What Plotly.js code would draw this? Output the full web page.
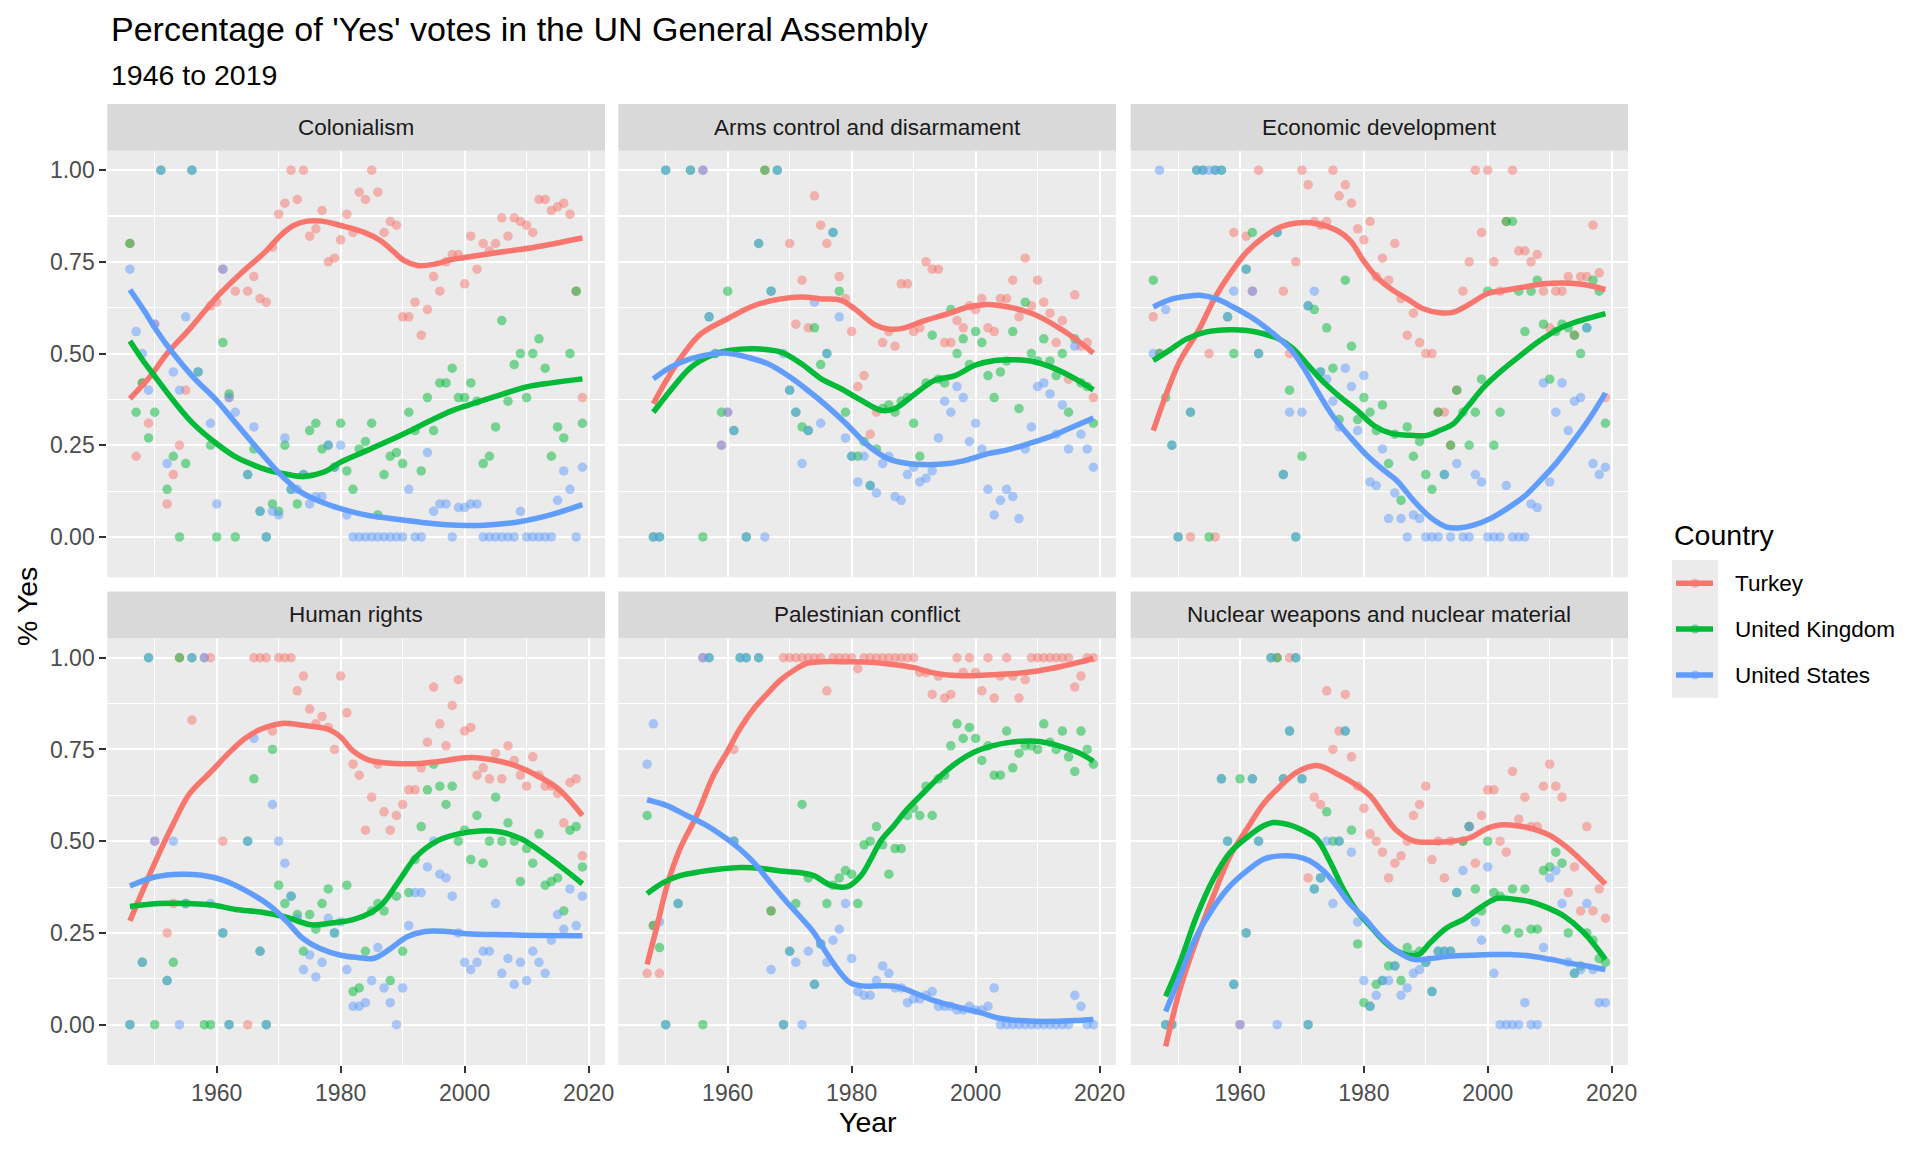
<!DOCTYPE html>
<html>
<head>
<meta charset="utf-8">
<script src="https://cdn.plot.ly/plotly-3.0.1.min.js"></script>
<style>
  html, body { margin: 0; padding: 0; background: #ffffff; }
  #chart { width: 1920px; height: 1152px; }
</style>
</head>
<body>
<div id="chart"></div>
<script>
// ---- data: [year, share of yes votes] ----

var countries = ['Turkey', 'United Kingdom', 'United States'];
var countryColors = ['#F8766D', '#00BA38', '#619CFF'];
var topics = ['Colonialism', 'Arms control and disarmament', 'Economic development',
              'Human rights', 'Palestinian conflict', 'Nuclear weapons and nuclear material'];

// Colonialism
var colonialismTurkey = [[1946,0.80],[1947,0.22],[1948,0.42],[1949,0.31],[1950,0.58],[1952,0.09],[1953,0.17],[1954,0.25],[1955,0.40],[1959,0.63],[1960,0.64],[1961,0.73],[1962,0.38],[1963,0.67],[1965,0.67],[1966,0.71],[1967,0.65],[1968,0.64],[1969,0.79],[1970,0.88],[1971,0.91],[1972,1.00],[1973,0.92],[1974,1.00],[1975,0.82],[1976,0.84],[1977,0.89],[1978,0.75],[1979,0.76],[1980,0.81],[1981,0.88],[1982,0.83],[1983,0.94],[1984,0.92],[1985,1.00],[1986,0.94],[1987,0.83],[1988,0.86],[1989,0.85],[1990,0.60],[1991,0.60],[1992,0.64],[1993,0.55],[1994,0.62],[1995,0.71],[1996,0.67],[1997,0.75],[1998,0.77],[1999,0.77],[2000,0.69],[2001,0.82],[2002,0.73],[2003,0.80],[2004,0.78],[2005,0.80],[2006,0.87],[2007,0.82],[2008,0.87],[2009,0.86],[2010,0.85],[2011,0.83],[2012,0.92],[2013,0.92],[2014,0.89],[2015,0.90],[2016,0.91],[2017,0.88],[2018,0.67],[2019,0.38]];
var colonialismUK = [[1946,0.80],[1947,0.34],[1948,0.42],[1949,0.27],[1950,0.34],[1951,1.00],[1952,0.13],[1953,0.22],[1954,0.00],[1955,0.20],[1956,1.00],[1957,0.45],[1959,0.25],[1960,0.00],[1961,0.53],[1962,0.39],[1963,0.00],[1965,0.17],[1966,0.24],[1967,0.07],[1968,0.00],[1969,0.09],[1970,0.07],[1971,0.25],[1972,0.13],[1973,0.09],[1974,0.17],[1975,0.29],[1976,0.31],[1977,0.24],[1978,0.25],[1979,0.19],[1980,0.31],[1981,0.18],[1982,0.13],[1983,0.24],[1984,0.26],[1985,0.31],[1986,0.06],[1987,0.17],[1988,0.22],[1989,0.23],[1990,0.20],[1991,0.34],[1992,0.29],[1993,0.18],[1994,0.38],[1995,0.29],[1996,0.42],[1997,0.42],[1998,0.46],[1999,0.38],[2000,0.38],[2001,0.42],[2002,0.37],[2003,0.20],[2004,0.22],[2005,0.30],[2006,0.59],[2007,0.37],[2008,0.47],[2009,0.50],[2010,0.38],[2011,0.50],[2012,0.54],[2013,0.46],[2014,0.22],[2015,0.30],[2016,0.27],[2017,0.50],[2018,0.67],[2019,0.31]];
var colonialismUS = [[1946,0.73],[1947,0.56],[1948,0.50],[1949,0.40],[1950,0.58],[1951,1.00],[1952,0.20],[1953,0.45],[1954,0.40],[1955,0.60],[1956,1.00],[1957,0.45],[1959,0.31],[1960,0.09],[1961,0.73],[1962,0.38],[1963,0.34],[1965,0.17],[1966,0.30],[1967,0.07],[1968,0.00],[1969,0.07],[1970,0.06],[1971,0.27],[1972,0.13],[1973,0.13],[1974,0.17],[1975,0.09],[1976,0.11],[1977,0.11],[1978,0.25],[1979,0.19],[1980,0.25],[1981,0.06],[1982,0],[1983,0],[1984,0],[1985,0],[1986,0],[1987,0],[1988,0],[1989,0],[1990,0],[1991,0.13],[1992,0],[1993,0],[1994,0.23],[1995,0.07],[1996,0.09],[1997,0.09],[1998,0],[1999,0.08],[2000,0.08],[2001,0.09],[2002,0.09],[2003,0],[2004,0],[2005,0],[2006,0],[2007,0],[2008,0],[2009,0.07],[2010,0],[2011,0],[2012,0],[2013,0],[2014,0],[2015,0.10],[2016,0.18],[2017,0.13],[2018,0],[2019,0.19]];

// Arms control and disarmament
var armsTurkey = [[1956,1.00],[1959,0.25],[1960,0.34],[1966,1.00],[1970,0.80],[1971,0.58],[1972,0.70],[1973,0.57],[1974,0.93],[1975,0.85],[1976,0.80],[1978,0.71],[1979,0.65],[1980,0.56],[1981,0.41],[1982,0.44],[1983,0.28],[1984,0.34],[1985,0.53],[1986,0.56],[1987,0.52],[1988,0.69],[1989,0.69],[1990,0.56],[1991,0.57],[1992,0.75],[1993,0.73],[1994,0.73],[1995,0.53],[1996,0.53],[1997,0.59],[1998,0.57],[1999,0.63],[2000,0.62],[2001,0.65],[2002,0.57],[2003,0.56],[2004,0.65],[2005,0.65],[2006,0.70],[2007,0.60],[2008,0.76],[2009,0.63],[2010,0.70],[2011,0.64],[2012,0.61],[2013,0.53],[2014,0.59],[2015,0.43],[2016,0.66],[2017,0.52],[2018,0.53],[2019,0.38]];
var armsUK = [[1948,0],[1949,0],[1950,1.00],[1954,1.00],[1956,0],[1957,0.60],[1958,0.50],[1959,0.34],[1960,0.67],[1961,0.29],[1963,0],[1965,0.80],[1966,1.00],[1967,0.67],[1968,1.00],[1970,0.40],[1971,0.34],[1972,0.30],[1973,0.29],[1974,0.57],[1975,0.47],[1976,0.50],[1977,0.83],[1978,0.67],[1979,0.34],[1980,0.22],[1981,0.22],[1982,0.26],[1983,0.14],[1984,0.24],[1985,0.35],[1986,0.36],[1987,0.34],[1988,0.37],[1989,0.38],[1990,0.31],[1991,0.22],[1992,0.42],[1993,0.55],[1994,0.43],[1995,0.42],[1996,0.62],[1997,0.50],[1998,0.54],[1999,0.47],[2000,0.56],[2001,0.53],[2002,0.44],[2003,0.38],[2004,0.45],[2005,0.48],[2006,0.56],[2007,0.35],[2008,0.64],[2009,0.50],[2010,0.48],[2011,0.54],[2012,0.48],[2013,0.44],[2014,0.50],[2015,0.34],[2016,0.54],[2017,0.42],[2018,0.41],[2019,0.31]];
var armsUS = [[1948,0],[1949,0],[1950,1.00],[1954,1.00],[1956,1.00],[1957,0.60],[1958,0.50],[1959,0.25],[1960,0.34],[1961,0.29],[1963,0],[1965,0.80],[1966,0],[1967,0.67],[1968,1.00],[1969,0.50],[1970,0.40],[1971,0.34],[1972,0.20],[1973,0.29],[1974,0.64],[1975,0.31],[1976,0.50],[1977,0.83],[1978,0.60],[1979,0.27],[1980,0.22],[1981,0.15],[1982,0.22],[1983,0.14],[1984,0.12],[1985,0.20],[1986,0.22],[1987,0.11],[1988,0.10],[1989,0.17],[1990,0.19],[1991,0.15],[1992,0.16],[1993,0.18],[1994,0.27],[1995,0.37],[1996,0.34],[1997,0.41],[1998,0.38],[1999,0.26],[2000,0.31],[2001,0.24],[2002,0.13],[2003,0.06],[2004,0.10],[2005,0.13],[2006,0.11],[2007,0.05],[2008,0.24],[2009,0.30],[2010,0.41],[2011,0.42],[2012,0.39],[2013,0.28],[2014,0.36],[2015,0.24],[2016,0.52],[2017,0.28],[2018,0.24],[2019,0.19]];

// Economic development
var econTurkey = [[1946,0.60],[1947,0.50],[1952,0],[1955,0.50],[1956,0],[1959,0.83],[1961,0.82],[1962,0.67],[1963,1.00],[1967,0.67],[1968,0.50],[1969,0.75],[1970,1.00],[1971,0.96],[1972,0.86],[1973,0.85],[1974,0.86],[1975,1.00],[1976,0.93],[1977,0.96],[1978,0.91],[1979,0.84],[1980,0.81],[1981,0.86],[1982,0.71],[1983,0.76],[1984,0.70],[1985,0.80],[1986,0.65],[1987,0.55],[1988,0.61],[1989,0.53],[1990,0.50],[1991,0.50],[1992,0.34],[1993,0.34],[1994,0.25],[1995,0.40],[1996,0.67],[1997,0.75],[1998,1.00],[1999,0.83],[2000,1.00],[2001,0.75],[2002,0.67],[2003,0.86],[2004,1.00],[2005,0.78],[2006,0.78],[2007,0.75],[2008,0.77],[2009,0.67],[2010,0.57],[2011,0.67],[2012,0.67],[2013,0.71],[2014,0.55],[2015,0.71],[2016,0.71],[2017,0.85],[2018,0.72],[2019,0.38]];
var econUK = [[1946,0.70],[1947,0.50],[1948,0.38],[1949,0.25],[1950,0],[1952,0.34],[1953,1.00],[1954,1.00],[1955,0],[1956,1.00],[1957,1.00],[1958,0.60],[1959,0.50],[1961,0.73],[1962,0.83],[1963,0.50],[1966,0.83],[1967,0.17],[1968,0.40],[1969,0],[1970,0.22],[1971,0.63],[1972,0.62],[1973,0.45],[1974,0.57],[1975,0.46],[1976,0.32],[1977,0.70],[1978,0.52],[1979,0.32],[1980,0.38],[1981,0.34],[1982,0.29],[1983,0.36],[1984,0.20],[1985,0.28],[1986,0.10],[1987,0.30],[1988,0.22],[1989,0.26],[1990,0.17],[1991,0.13],[1992,0.34],[1993,0.17],[1994,0.25],[1995,0.40],[1996,0.34],[1997,0.25],[1998,0.34],[1999,0.43],[2000,0.67],[2001,0.25],[2002,0.34],[2003,0.86],[2004,0.86],[2005,0.67],[2006,0.56],[2007,0.67],[2008,0.70],[2009,0.58],[2010,0.43],[2011,0.56],[2012,0.58],[2013,0.57],[2014,0.55],[2015,0.50],[2016,0.57],[2017,0.70],[2018,0.67],[2019,0.31]];
var econUS = [[1946,0.50],[1947,1.00],[1948,0.62],[1949,0.25],[1950,0],[1952,0.34],[1953,1.00],[1954,1.00],[1955,1.00],[1956,1.00],[1957,1.00],[1958,0.60],[1959,0.67],[1961,0.73],[1962,0.67],[1963,0.50],[1966,0.83],[1967,0.17],[1968,0.34],[1969,0],[1970,0.34],[1971,0.63],[1972,0.67],[1973,0.45],[1974,0.43],[1975,0.37],[1976,0.30],[1977,0.46],[1978,0.41],[1979,0.29],[1980,0.44],[1981,0.15],[1982,0.14],[1983,0.24],[1984,0.05],[1985,0.12],[1986,0.05],[1987,0],[1988,0.06],[1989,0.05],[1990,0],[1991,0],[1992,0],[1993,0.17],[1994,0],[1995,0.20],[1996,0],[1997,0],[1998,0.17],[1999,0.15],[2000,0],[2001,0],[2002,0],[2003,0.14],[2004,0],[2005,0],[2006,0],[2007,0.09],[2008,0.08],[2009,0.42],[2010,0.15],[2011,0.34],[2012,0.42],[2013,0.29],[2014,0.37],[2015,0.38],[2016,0.57],[2017,0.20],[2018,0.17],[2019,0.19]];

// Human rights
var humanTurkey = [[1950,0.50],[1952,0.25],[1953,0.33],[1954,1.00],[1956,0.83],[1958,1.00],[1959,1.00],[1961,0.50],[1965,0],[1966,1.00],[1967,1.00],[1968,1.00],[1969,0.80],[1970,1.00],[1971,1.00],[1972,1.00],[1973,0.91],[1974,0.95],[1975,0.86],[1976,0.82],[1977,0.84],[1978,0.81],[1979,0.75],[1980,0.95],[1981,0.85],[1982,0.71],[1983,0.68],[1984,0.53],[1985,0.62],[1986,0.71],[1987,0.58],[1988,0.53],[1989,0.57],[1990,0.60],[1991,0.64],[1992,0.64],[1993,0.70],[1994,0.77],[1995,0.92],[1996,0.82],[1997,0.76],[1998,0.87],[1999,0.94],[2000,0.80],[2001,0.81],[2002,0.68],[2003,0.70],[2004,0.67],[2005,0.74],[2006,0.67],[2007,0.76],[2008,0.72],[2009,0.68],[2010,0.65],[2011,0.73],[2012,0.68],[2013,0.65],[2014,0.65],[2015,0.63],[2016,0.55],[2017,0.66],[2018,0.67],[2019,0.46]];
var humanUK = [[1946,0],[1948,0.17],[1949,1.00],[1950,0],[1952,0.12],[1953,0.17],[1954,1.00],[1955,0.33],[1956,1.00],[1958,0],[1959,0],[1961,0.25],[1962,0],[1965,0.50],[1966,0.67],[1967,0.20],[1968,0],[1969,0.75],[1970,0.38],[1971,0.33],[1972,0.35],[1973,0.30],[1974,0.20],[1975,0.30],[1976,0.26],[1977,0.33],[1978,0.37],[1979,0.25],[1981,0.38],[1982,0.09],[1983,0.10],[1984,0.20],[1985,0.31],[1986,0.33],[1987,0.31],[1988,0.12],[1989,0.35],[1990,0.20],[1991,0.36],[1992,0.45],[1993,0.54],[1994,0.64],[1995,0.71],[1996,0.65],[1997,0.60],[1998,0.65],[1999,0.50],[2000,0.53],[2001,0.45],[2002,0.57],[2003,0.44],[2004,0.50],[2005,0.62],[2006,0.50],[2007,0.55],[2008,0.50],[2009,0.39],[2010,0.48],[2011,0.44],[2012,0.52],[2013,0.38],[2014,0.39],[2015,0.40],[2016,0.31],[2017,0.53],[2018,0.54],[2019,0.43]];
var humanUS = [[1946,0],[1948,0.17],[1949,1.00],[1950,0.50],[1952,0.12],[1953,0.50],[1954,0],[1955,0.33],[1956,1.00],[1958,1.00],[1959,0.33],[1961,0.25],[1962,0],[1965,0.50],[1966,0.78],[1967,0.20],[1968,0],[1969,0.60],[1970,0.50],[1971,0.44],[1972,0.35],[1973,0.29],[1974,0.15],[1975,0.19],[1976,0.13],[1977,0.17],[1978,0.29],[1979,0.25],[1980,0.28],[1981,0.15],[1982,0.05],[1983,0.05],[1984,0.06],[1985,0.12],[1986,0.21],[1987,0.10],[1988,0.06],[1989,0],[1990,0.10],[1991,0.27],[1992,0.36],[1993,0.36],[1994,0.43],[1995,0.50],[1996,0.41],[1997,0.40],[1998,0.35],[1999,0.25],[2000,0.17],[2001,0.15],[2002,0.17],[2003,0.20],[2004,0.20],[2005,0.33],[2006,0.14],[2007,0.18],[2008,0.11],[2009,0.17],[2010,0.12],[2011,0.20],[2012,0.17],[2013,0.14],[2014,0.23],[2015,0.30],[2016,0.26],[2017,0.37],[2018,0.27],[2019,0.35]];

// Palestinian conflict
var palTurkey = [[1947,0.14],[1948,0.27],[1949,0.14],[1956,1.00],[1961,0.75],[1967,0.31],[1969,1],[1970,1],[1971,1],[1972,1],[1973,1],[1974,1],[1975,1],[1976,0.91],[1977,1],[1978,1],[1979,1],[1980,1],[1981,0.97],[1982,1],[1983,1],[1984,1],[1985,1],[1986,1],[1987,1],[1988,1],[1989,1],[1990,1],[1991,0.96],[1992,0.96],[1993,0.90],[1994,0.95],[1995,0.89],[1996,0.90],[1997,1],[1998,0.96],[1999,1],[2000,0.96],[2001,0.91],[2002,1],[2003,0.89],[2004,0.95],[2005,1],[2006,0.95],[2007,0.89],[2008,0.94],[2009,1],[2010,1],[2011,1],[2012,1],[2013,1],[2014,1],[2015,1],[2016,0.92],[2017,0.95],[2018,1],[2019,1]];
var palUK = [[1947,0.57],[1948,0.27],[1949,0.21],[1950,0],[1952,0.33],[1956,0],[1957,1.00],[1961,0.50],[1962,1.00],[1963,1.00],[1965,1.00],[1967,0.31],[1969,0],[1970,0.20],[1971,0.33],[1972,0.60],[1973,0.40],[1974,0.11],[1975,0.22],[1976,0.33],[1977,0.38],[1978,0.40],[1979,0.42],[1980,0.41],[1981,0.33],[1982,0.49],[1983,0.50],[1984,0.54],[1985,0.49],[1986,0.41],[1987,0.48],[1988,0.48],[1989,0.57],[1990,0.59],[1991,0.57],[1992,0.65],[1993,0.57],[1994,0.67],[1995,0.68],[1996,0.76],[1997,0.82],[1998,0.78],[1999,0.81],[2000,0.78],[2001,0.72],[2002,0.76],[2003,0.68],[2004,0.68],[2005,0.80],[2006,0.70],[2007,0.74],[2008,0.76],[2009,0.76],[2010,0.75],[2011,0.82],[2012,0.77],[2013,0.75],[2014,0.80],[2015,0.73],[2016,0.69],[2017,0.80],[2018,0.75],[2019,0.71]];
var palUS = [[1947,0.71],[1948,0.82],[1949,0.28],[1950,0],[1952,0.33],[1956,1.00],[1957,1.00],[1961,0.50],[1962,1],[1963,1],[1965,1],[1967,0.15],[1969,0],[1970,0.20],[1971,0.17],[1972,0],[1973,0.20],[1974,0.11],[1975,0.22],[1976,0.17],[1977,0.23],[1978,0.26],[1979,0.33],[1980,0.18],[1981,0.09],[1982,0.08],[1983,0.08],[1984,0.12],[1985,0.16],[1986,0.14],[1987,0.10],[1988,0.10],[1989,0.06],[1990,0.07],[1991,0.07],[1992,0.08],[1993,0.09],[1994,0.05],[1995,0.05],[1996,0.05],[1997,0.04],[1998,0.04],[1999,0.05],[2000,0.04],[2001,0.04],[2002,0.05],[2003,0.10],[2004,0],[2005,0],[2006,0],[2007,0],[2008,0],[2009,0],[2010,0],[2011,0],[2012,0],[2013,0],[2014,0],[2015,0],[2016,0.08],[2017,0.05],[2018,0],[2019,0]];

// Nuclear weapons and nuclear material
var nuclearTurkey = [[1960,0],[1966,1.00],[1968,1.00],[1971,0.40],[1972,0.62],[1973,0.60],[1974,0.91],[1975,0.75],[1976,0.80],[1977,0.90],[1978,0.73],[1979,0.65],[1980,0.59],[1981,0.52],[1982,0.50],[1983,0.47],[1984,0.40],[1985,0.44],[1986,0.46],[1987,0.50],[1988,0.57],[1989,0.60],[1990,0.65],[1991,0.45],[1992,0.50],[1993,0.40],[1994,0.50],[1996,0.50],[1997,0.54],[1998,0.44],[1999,0.57],[2000,0.64],[2001,0.64],[2002,0.50],[2003,0.47],[2004,0.69],[2005,0.56],[2006,0.62],[2007,0.54],[2008,0.54],[2009,0.65],[2010,0.71],[2011,0.65],[2012,0.62],[2013,0.36],[2014,0.43],[2015,0.31],[2016,0.54],[2017,0.31],[2018,0.37],[2019,0.29]];
var nuclearUK = [[1948,0],[1949,0],[1957,0.67],[1958,0.50],[1959,0.11],[1960,0.67],[1961,0.25],[1962,0.67],[1963,0.50],[1965,1.00],[1966,1.00],[1967,0.67],[1968,0.80],[1969,1.00],[1970,0.67],[1971,0],[1972,0.37],[1973,0.40],[1974,0.58],[1975,0.50],[1976,0.50],[1977,0.80],[1978,0.53],[1979,0.22],[1980,0.06],[1981,0.05],[1982,0.11],[1983,0.12],[1984,0.16],[1985,0.16],[1986,0.12],[1987,0.21],[1988,0.19],[1989,0.20],[1990,0.17],[1991,0.09],[1992,0.20],[1993,0.20],[1994,0.20],[1995,0.36],[1996,0.50],[1997,0.54],[1998,0.37],[1999,0.31],[2000,0.50],[2001,0.36],[2002,0.35],[2003,0.26],[2004,0.37],[2005,0.25],[2006,0.37],[2007,0.26],[2008,0.26],[2009,0.42],[2010,0.43],[2011,0.47],[2012,0.44],[2013,0.25],[2014,0.14],[2015,0.16],[2016,0.25],[2017,0.23],[2018,0.18],[2019,0.17]];
var nuclearUS = [[1948,0],[1949,0],[1957,0.67],[1958,0.50],[1959,0.11],[1960,0],[1961,0.25],[1962,0.67],[1963,0.50],[1965,1.00],[1966,0],[1967,0.67],[1968,0.80],[1969,1.00],[1970,0.67],[1971,0],[1972,0.37],[1973,0.40],[1974,0.50],[1975,0.33],[1976,0.50],[1977,0.80],[1978,0.47],[1979,0.28],[1980,0.12],[1981,0.05],[1982,0.08],[1983,0.12],[1984,0.12],[1985,0.16],[1986,0.08],[1987,0.10],[1988,0.14],[1989,0.15],[1990,0.17],[1991,0.09],[1992,0.20],[1993,0.20],[1994,0.20],[1995,0.36],[1996,0.42],[1997,0.54],[1998,0.28],[1999,0.23],[2000,0.43],[2001,0.14],[2002,0],[2003,0],[2004,0],[2005,0],[2006,0.06],[2007,0],[2008,0],[2009,0.21],[2010,0.40],[2011,0.42],[2012,0.33],[2013,0.17],[2014,0.14],[2015,0.15],[2016,0.33],[2017,0.15],[2018,0.06],[2019,0.06]];

// smoothed trend lines
var colonialismTurkeyFit = [[1946,0.377],[1949.2,0.436],[1952,0.5],[1955.7,0.568],[1960,0.654],[1963.8,0.717],[1968,0.78],[1970.3,0.822],[1972.4,0.849],[1974.6,0.861],[1977,0.861],[1980,0.849],[1983.7,0.831],[1986.4,0.808],[1988.6,0.777],[1990.2,0.754],[1992.4,0.74],[1995,0.743],[1997.8,0.756],[2000.5,0.763],[2005.9,0.777],[2011.3,0.79],[2019,0.815]];
var colonialismUKFit = [[1946,0.534],[1948.1,0.481],[1949.7,0.445],[1953,0.372],[1956.2,0.309],[1960,0.254],[1962.7,0.222],[1965.4,0.2],[1968.1,0.183],[1971.3,0.171],[1974,0.165],[1977.3,0.177],[1980,0.204],[1984.3,0.236],[1989.7,0.277],[1995.1,0.322],[1997.8,0.343],[2000.5,0.359],[2005.9,0.388],[2010.2,0.41],[2014,0.42],[2019,0.431]];
var colonialismUSFit = [[1946,0.674],[1948.1,0.622],[1950.3,0.563],[1953,0.5],[1956.2,0.436],[1960,0.372],[1962.7,0.318],[1965.9,0.254],[1969.2,0.19],[1971.3,0.154],[1973.5,0.123],[1976.2,0.10],[1980,0.077],[1984.3,0.059],[1989.7,0.047],[1995.1,0.036],[1998.9,0.032],[2003.2,0.032],[2008.6,0.041],[2014,0.061],[2019,0.088]];
var armsTurkeyFit = [[1948,0.363],[1949.8,0.418],[1952.5,0.49],[1955.7,0.554],[1960,0.595],[1964.3,0.631],[1968.6,0.649],[1971.9,0.654],[1975.1,0.649],[1978.3,0.645],[1980.5,0.622],[1983.7,0.579],[1985.9,0.567],[1988,0.568],[1991.8,0.59],[1995.6,0.609],[1998.8,0.627],[2002,0.634],[2005.3,0.627],[2009.1,0.609],[2012.8,0.577],[2016.1,0.54],[2019,0.501]];
var armsUKFit = [[1948,0.34],[1950.8,0.40],[1954.1,0.463],[1957.3,0.495],[1960.5,0.509],[1964.3,0.513],[1968.6,0.504],[1971.9,0.472],[1975.1,0.431],[1978.3,0.404],[1981.6,0.372],[1984.8,0.345],[1987,0.35],[1990.2,0.39],[1993.4,0.427],[1996.7,0.44],[1999.9,0.468],[2003.1,0.481],[2006.4,0.483],[2009.6,0.477],[2012.8,0.459],[2016.1,0.431],[2019,0.401]];
var armsUSFit = [[1948,0.431],[1950.8,0.463],[1954.1,0.486],[1957.3,0.498],[1960,0.501],[1963.2,0.49],[1966.5,0.472],[1969.7,0.44],[1972.9,0.40],[1976.2,0.354],[1979.4,0.304],[1982.6,0.25],[1985.9,0.213],[1989.1,0.20],[1992.3,0.197],[1995.6,0.20],[1998.8,0.211],[2002,0.227],[2005.3,0.238],[2008.5,0.254],[2011.8,0.272],[2015,0.295],[2019,0.324]];
var econTurkeyFit = [[1946,0.29],[1948.1,0.39],[1950.3,0.48],[1953.3,0.563],[1956,0.654],[1958.4,0.718],[1961.1,0.777],[1963.8,0.817],[1966.5,0.845],[1969.2,0.856],[1972.4,0.854],[1975.6,0.836],[1977.8,0.808],[1979.9,0.754],[1982.1,0.708],[1984.3,0.677],[1987,0.649],[1989.6,0.622],[1992.3,0.611],[1994.5,0.613],[1997.2,0.636],[1999.9,0.663],[2002.6,0.672],[2005.8,0.681],[2009.1,0.69],[2012.3,0.692],[2015.5,0.688],[2019,0.674]];
var econUKFit = [[1946,0.481],[1948.7,0.51],[1951.4,0.54],[1954.6,0.559],[1958.4,0.565],[1961.1,0.563],[1963.8,0.554],[1966.5,0.538],[1968.6,0.513],[1970.8,0.472],[1973.5,0.422],[1976.2,0.381],[1978.9,0.345],[1981.6,0.304],[1984.3,0.283],[1987.5,0.277],[1990.2,0.277],[1992.3,0.291],[1994.5,0.309],[1996.7,0.354],[1999.4,0.409],[2002,0.45],[2005.3,0.495],[2008.5,0.536],[2011.8,0.57],[2015,0.59],[2019,0.609]];
var econUSFit = [[1946,0.627],[1948.7,0.647],[1951.4,0.656],[1953.5,0.659],[1956.2,0.649],[1958.9,0.627],[1962.2,0.595],[1965.4,0.554],[1968.1,0.513],[1970.2,0.463],[1972.4,0.40],[1975.1,0.327],[1977.8,0.272],[1980.5,0.222],[1983.2,0.182],[1985.3,0.154],[1988,0.10],[1990.7,0.054],[1993.4,0.027],[1995.6,0.025],[1997.7,0.032],[2000.4,0.05],[2003.1,0.077],[2005.8,0.109],[2008.5,0.154],[2011.2,0.204],[2013.9,0.263],[2016.6,0.327],[2019,0.392]];
var humanTurkeyFit = [[1946,0.283],[1950.2,0.448],[1952.9,0.544],[1955.6,0.629],[1959,0.688],[1961.7,0.736],[1964.4,0.778],[1967.1,0.805],[1970.5,0.821],[1973.9,0.816],[1978,0.805],[1980,0.784],[1982,0.746],[1984.7,0.72],[1988.8,0.712],[1992.9,0.712],[1997,0.72],[1999.7,0.727],[2002.4,0.727],[2005.1,0.72],[2008.5,0.704],[2011.9,0.677],[2015.3,0.64],[2019,0.57]];
var humanUKFit = [[1946,0.322],[1950.8,0.33],[1955.6,0.33],[1959,0.327],[1963.1,0.314],[1967.1,0.307],[1971.2,0.293],[1975.3,0.272],[1978.6,0.277],[1982,0.286],[1984.7,0.304],[1986.8,0.33],[1989.5,0.394],[1992.2,0.458],[1995.6,0.501],[1999,0.52],[2002.4,0.528],[2005.8,0.525],[2009.2,0.506],[2012.5,0.469],[2015.9,0.426],[2019,0.384]];
var humanUSFit = [[1946,0.378],[1950.2,0.403],[1954.2,0.41],[1957.6,0.407],[1961,0.394],[1964.4,0.368],[1968.5,0.325],[1971.2,0.283],[1973.9,0.235],[1976.6,0.208],[1980,0.189],[1982.7,0.183],[1985.4,0.181],[1988.1,0.208],[1990.8,0.24],[1993.6,0.254],[1997,0.254],[2000.3,0.248],[2006.4,0.245],[2013.2,0.243],[2019,0.242]];
var palTurkeyFit = [[1947,0.164],[1948.6,0.269],[1950.2,0.378],[1952.3,0.479],[1955,0.57],[1957.7,0.679],[1959.9,0.743],[1962,0.807],[1964.2,0.861],[1966.4,0.902],[1968.5,0.939],[1970.7,0.966],[1972.8,0.985],[1975,0.989],[1979.3,0.989],[1983.6,0.987],[1987.4,0.98],[1990.1,0.973],[1992.8,0.96],[1995.5,0.953],[1998.7,0.951],[2001.9,0.953],[2006.3,0.957],[2010,0.964],[2013.8,0.976],[2017,0.989],[2019,0.998]];
var palUKFit = [[1947,0.357],[1949.6,0.387],[1952.3,0.406],[1955.6,0.417],[1958.8,0.424],[1962,0.428],[1965.3,0.426],[1968.5,0.419],[1971.8,0.414],[1973.9,0.406],[1976.6,0.38],[1979.3,0.376],[1981.5,0.406],[1983.1,0.451],[1984.7,0.501],[1986.8,0.542],[1989,0.588],[1991.7,0.634],[1994.4,0.679],[1997.1,0.716],[1999.8,0.743],[2002.5,0.759],[2005.7,0.77],[2009,0.773],[2011.6,0.768],[2014.9,0.752],[2017,0.738],[2019,0.718]];
var palUSFit = [[1947,0.613],[1950.2,0.597],[1953.4,0.57],[1956.7,0.542],[1959.9,0.506],[1962,0.478],[1964.2,0.442],[1966.9,0.387],[1969.6,0.333],[1971.8,0.292],[1973.9,0.251],[1976.1,0.191],[1978.2,0.141],[1979.8,0.114],[1982,0.105],[1984.7,0.106],[1987.4,0.103],[1990.1,0.087],[1992.8,0.068],[1995.5,0.055],[1998.2,0.043],[2000.9,0.032],[2003.6,0.018],[2006.3,0.012],[2009.5,0.009],[2012.7,0.009],[2016,0.011],[2019,0.014]];
var nuclearTurkeyFit = [[1948,-0.059],[1950.3,0.096],[1953,0.232],[1955.7,0.351],[1958.4,0.46],[1961.1,0.533],[1963.8,0.602],[1966.5,0.65],[1969.2,0.688],[1972.4,0.706],[1975.6,0.684],[1978.9,0.652],[1981,0.624],[1983.2,0.574],[1985.3,0.529],[1988,0.501],[1990.7,0.497],[1994,0.499],[1997.2,0.51],[1999.9,0.535],[2002,0.544],[2004.7,0.542],[2007.4,0.533],[2010.1,0.515],[2012.8,0.483],[2015.5,0.442],[2019,0.383]];
var nuclearUKFit = [[1948,0.077],[1950.3,0.169],[1953,0.296],[1955.7,0.397],[1958.4,0.469],[1961.1,0.51],[1963.8,0.542],[1965.4,0.551],[1968.1,0.544],[1970.2,0.529],[1972.4,0.506],[1974.6,0.442],[1976.7,0.369],[1978.9,0.31],[1981,0.269],[1983.2,0.228],[1985.3,0.201],[1988.6,0.189],[1990.7,0.223],[1993.4,0.264],[1996.1,0.287],[1998.8,0.319],[2001.5,0.344],[2004.2,0.342],[2006.9,0.335],[2009.6,0.319],[2012.3,0.296],[2015.5,0.251],[2019,0.178]];
var nuclearUSFit = [[1948,0.036],[1950.3,0.132],[1953,0.242],[1955.7,0.319],[1958.4,0.378],[1961.1,0.419],[1963.8,0.451],[1966.5,0.46],[1969.2,0.458],[1971.3,0.446],[1973.5,0.419],[1975.6,0.378],[1977.8,0.328],[1980,0.292],[1982.6,0.242],[1985.3,0.201],[1988,0.178],[1990.7,0.18],[1994,0.187],[1997.2,0.189],[2000.4,0.191],[2003.6,0.191],[2006.9,0.187],[2010.1,0.178],[2013.4,0.167],[2016.6,0.158],[2019,0.15]];

var panelPoints = [
    [colonialismTurkey, colonialismUK, colonialismUS],
    [armsTurkey, armsUK, armsUS],
    [econTurkey, econUK, econUS],
    [humanTurkey, humanUK, humanUS],
    [palTurkey, palUK, palUS],
    [nuclearTurkey, nuclearUK, nuclearUS]
];
var panelFits = [
    [colonialismTurkeyFit, colonialismUKFit, colonialismUSFit],
    [armsTurkeyFit, armsUKFit, armsUSFit],
    [econTurkeyFit, econUKFit, econUSFit],
    [humanTurkeyFit, humanUKFit, humanUSFit],
    [palTurkeyFit, palUKFit, palUSFit],
    [nuclearTurkeyFit, nuclearUKFit, nuclearUSFit]
];

// ---- layout geometry (pixels of the 1920x1152 page) ----
var W = 1920, H = 1152;
var colPx = [[107.3, 605], [618.3, 1116], [1130.7, 1628]];
var rowPx = [[150.7, 577.3], [638.3, 1065]];
var stripH = 46.7;
var FONT = 'Arial, "Liberation Sans", sans-serif';

function fx(p) { return p / W; }
function fy(p) { return 1 - p / H; }

var data = [];
var layout = {
    width: W, height: H,
    margin: {l: 0, r: 0, t: 0, b: 0},
    paper_bgcolor: '#FFFFFF',
    plot_bgcolor: '#EBEBEB',
    showlegend: false,
    font: {family: FONT, color: '#000000'},
    shapes: [],
    annotations: []
};

// points first, then the smooth lines on top
for (var i = 0; i < 6; i++) {
    var suffix = i === 0 ? '' : String(i + 1);
    for (var c = 0; c < 3; c++) {
        var pts = panelPoints[i][c];
        data.push({
            type: 'scatter', mode: 'markers',
            x: pts.map(function (p) { return p[0]; }),
            y: pts.map(function (p) { return p[1]; }),
            xaxis: 'x' + suffix, yaxis: 'y' + suffix,
            marker: {color: countryColors[c], size: 9.5, opacity: 0.5, line: {width: 0}},
            hoverinfo: 'skip', showlegend: false
        });
    }
}
for (var i = 0; i < 6; i++) {
    var suffix = i === 0 ? '' : String(i + 1);
    for (var c = 0; c < 3; c++) {
        var fit = panelFits[i][c];
        data.push({
            type: 'scatter', mode: 'lines',
            x: fit.map(function (p) { return p[0]; }),
            y: fit.map(function (p) { return p[1]; }),
            xaxis: 'x' + suffix, yaxis: 'y' + suffix,
            line: {color: countryColors[c], width: 5.5, shape: 'spline', smoothing: 1},
            hoverinfo: 'skip', showlegend: false
        });
    }
}

for (var i = 0; i < 6; i++) {
    var col = i % 3, row = Math.floor(i / 3);
    var suffix = i === 0 ? '' : String(i + 1);
    var bottom = row === 1, left = col === 0;

    layout['xaxis' + suffix] = {
        domain: [fx(colPx[col][0]), fx(colPx[col][1])],
        anchor: 'y' + suffix,
        range: [1942.35, 2022.65],
        tickmode: 'linear', tick0: 1960, dtick: 20,
        showgrid: true, gridcolor: '#FFFFFF', gridwidth: 2,
        minor: {dtick: 10, tick0: 1950, showgrid: true, gridcolor: '#FFFFFF', gridwidth: 1.1, ticks: ''},
        zeroline: false, showline: false,
        ticks: bottom ? 'outside' : '', ticklen: 7, tickwidth: 2, tickcolor: '#333333',
        showticklabels: bottom,
        tickfont: {family: FONT, size: 23, color: '#4D4D4D'},
        fixedrange: true
    };
    layout['yaxis' + suffix] = {
        domain: [fy(rowPx[row][1]), fy(rowPx[row][0])],
        anchor: 'x' + suffix,
        range: [-0.11, 1.053],
        tickmode: 'linear', tick0: 0, dtick: 0.25, tickformat: '.2f',
        showgrid: true, gridcolor: '#FFFFFF', gridwidth: 2,
        minor: {dtick: 0.125, tick0: 0, showgrid: true, gridcolor: '#FFFFFF', gridwidth: 1.1, ticks: ''},
        zeroline: false, showline: false,
        ticks: left ? 'outside' : '', ticklen: 7, tickwidth: 2, tickcolor: '#333333',
        showticklabels: left,
        tickfont: {family: FONT, size: 23, color: '#4D4D4D'},
        fixedrange: true
    };

    // facet strip
    var stripTop = rowPx[row][0] - stripH;
    layout.shapes.push({
        type: 'rect', xref: 'paper', yref: 'paper',
        x0: fx(colPx[col][0]), x1: fx(colPx[col][1]),
        y0: fy(rowPx[row][0]), y1: fy(stripTop),
        fillcolor: '#D9D9D9', line: {width: 0}
    });
    layout.annotations.push({
        xref: 'paper', yref: 'paper', showarrow: false,
        x: fx((colPx[col][0] + colPx[col][1]) / 2), y: fy(stripTop + stripH / 2),
        xanchor: 'center', yanchor: 'middle',
        text: topics[i], font: {family: FONT, size: 22.5, color: '#1A1A1A'}
    });
}

// titles
layout.annotations.push({
    xref: 'paper', yref: 'paper', showarrow: false, x: fx(109), y: fy(29.5),
    xanchor: 'left', yanchor: 'middle',
    text: "Percentage of 'Yes' votes in the UN General Assembly",
    font: {family: FONT, size: 34, color: '#000000'}
});
layout.annotations.push({
    xref: 'paper', yref: 'paper', showarrow: false, x: fx(109), y: fy(75),
    xanchor: 'left', yanchor: 'middle',
    text: '1946 to 2019', font: {family: FONT, size: 28.5, color: '#000000'}
});
layout.annotations.push({
    xref: 'paper', yref: 'paper', showarrow: false, x: fx(867.6), y: fy(1121.5),
    xanchor: 'center', yanchor: 'middle',
    text: 'Year', font: {family: FONT, size: 28.5, color: '#000000'}
});
layout.annotations.push({
    xref: 'paper', yref: 'paper', showarrow: false, x: fx(27), y: fy(607),
    xanchor: 'center', yanchor: 'middle', textangle: -90,
    text: '% Yes', font: {family: FONT, size: 28.5, color: '#000000'}
});

// legend
layout.annotations.push({
    xref: 'paper', yref: 'paper', showarrow: false, x: fx(1672), y: fy(535),
    xanchor: 'left', yanchor: 'middle',
    text: 'Country', font: {family: FONT, size: 28.5, color: '#000000'}
});
layout.shapes.push({
    type: 'rect', xref: 'paper', yref: 'paper',
    x0: fx(1672), x1: fx(1718), y0: fy(697.7), y1: fy(560),
    fillcolor: '#EBEBEB', line: {width: 0}
});
var keyY = [583.3, 629, 675];
for (var c = 0; c < 3; c++) {
    layout.shapes.push({
        type: 'line', xref: 'paper', yref: 'paper',
        x0: fx(1676), x1: fx(1713), y0: fy(keyY[c]), y1: fy(keyY[c]),
        line: {color: countryColors[c], width: 5.5}
    });
    layout.shapes.push({
        type: 'circle', xref: 'paper', yref: 'paper', opacity: 0.5,
        x0: fx(1695 - 4.5), x1: fx(1695 + 4.5), y0: fy(keyY[c] + 4.5), y1: fy(keyY[c] - 4.5),
        fillcolor: countryColors[c], line: {width: 0}
    });
    layout.annotations.push({
        xref: 'paper', yref: 'paper', showarrow: false, x: fx(1732.7), y: fy(keyY[c]),
        xanchor: 'left', yanchor: 'middle',
        text: countries[c], font: {family: FONT, size: 22.5, color: '#000000'}
    });
}

Plotly.newPlot('chart', data, layout, {displayModeBar: false, staticPlot: true});
</script>
</body>
</html>
